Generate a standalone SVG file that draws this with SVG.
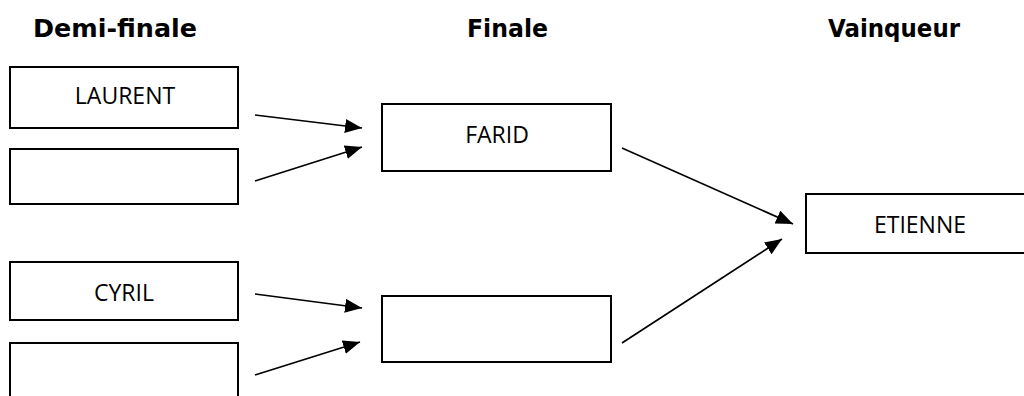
<svg xmlns="http://www.w3.org/2000/svg" width="1024" height="396" viewBox="0 0 1024 396">
  <style>
    .box { fill: #ffffff; stroke: #000000; stroke-width: 2; }
    .lbl { font-family: "Open Sans", "Liberation Sans", sans-serif; font-size: 23px; fill: #000000; text-anchor: middle; }
    .hd { font-family: "DejaVu Sans", "Liberation Sans", sans-serif; font-weight: bold; font-size: 25px; fill: #000000; }
    .edge { stroke: #000000; stroke-width: 1.7; fill: none; marker-end: url(#arrow); }
  </style>
  <defs>
    <marker id="arrow" markerUnits="userSpaceOnUse" markerWidth="18" markerHeight="16" refX="17" refY="7" orient="auto">
      <path d="M0,0 L17,7 L0,14 Z" fill="#000000"/>
    </marker>
  </defs>
  <rect width="1024" height="396" fill="#ffffff"/>

  <g id="headings">
    <text class="hd" x="33" y="37" textLength="164" lengthAdjust="spacingAndGlyphs">Demi-finale</text>
    <text class="hd" x="467" y="37" textLength="81" lengthAdjust="spacingAndGlyphs">Finale</text>
    <text class="hd" x="828" y="37" textLength="132" lengthAdjust="spacingAndGlyphs">Vainqueur</text>
  </g>

  <g id="semi1">
    <rect class="box" x="10" y="67" width="228" height="61"/>
    <text class="lbl" x="125" y="104">LAURENT</text>
  </g>
  <g id="semi2">
    <rect class="box" x="10" y="149" width="228" height="55"/>
  </g>
  <g id="semi3">
    <rect class="box" x="10" y="262" width="228" height="58"/>
    <text class="lbl" x="124" y="301">CYRIL</text>
  </g>
  <g id="semi4">
    <rect class="box" x="10" y="343" width="228" height="60"/>
  </g>

  <g id="final1">
    <rect class="box" x="382" y="104" width="229" height="67"/>
    <text class="lbl" x="497" y="143">FARID</text>
  </g>
  <g id="final2">
    <rect class="box" x="382" y="296" width="229" height="66"/>
  </g>

  <g id="winner">
    <rect class="box" x="806" y="194" width="226" height="59"/>
    <text class="lbl" x="920" y="233">ETIENNE</text>
  </g>

  <g id="connectors">
    <line class="edge" x1="255" y1="115" x2="362" y2="128"/>
    <line class="edge" x1="255" y1="181" x2="362" y2="147"/>
    <line class="edge" x1="255" y1="294" x2="362" y2="308"/>
    <line class="edge" x1="255" y1="375" x2="360" y2="342"/>
    <line class="edge" x1="622" y1="148" x2="793" y2="224"/>
    <line class="edge" x1="622" y1="343" x2="782" y2="239"/>
  </g>
</svg>
